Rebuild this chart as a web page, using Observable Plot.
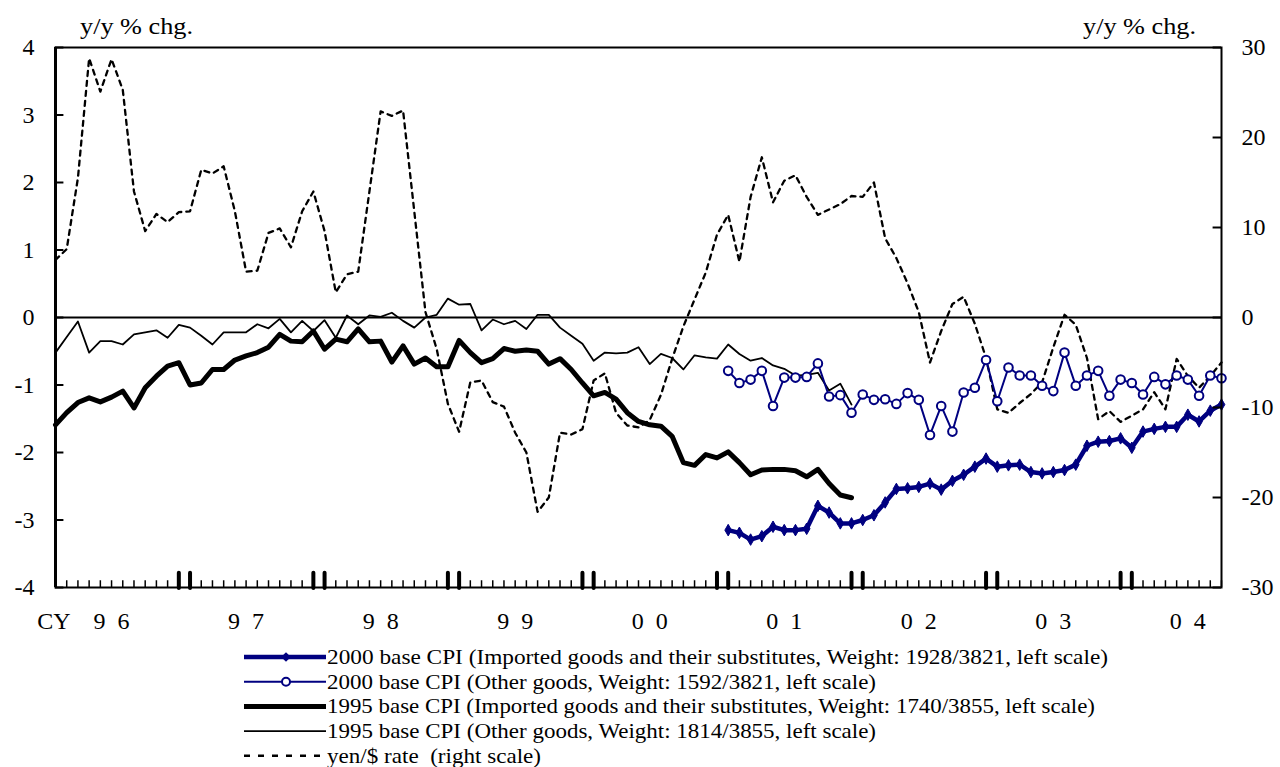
<!DOCTYPE html>
<html><head><meta charset="utf-8">
<script src="https://cdn.jsdelivr.net/npm/d3@7"></script>
<script src="https://cdn.jsdelivr.net/npm/@observablehq/plot@0.6"></script>
<style>
body{margin:0;background:#fff;font-family:"Liberation Serif","Times New Roman",serif;}
#chart svg,#legend svg{display:block}
</style></head><body>
<div id="chart"></div>
<div id="legend"></div>
<script>
// Monthly index: 0 = Jan 1996 ... 104 = Sep 2004
const yearLabels = ["96","97","98","99","00","01","02","03","04"];
const leftTicks = [-4,-3,-2,-1,0,1,2,3,4];
const rightTicks = [-30,-20,-10,0,10,20,30];

// 1995 base CPI, imported goods and their substitutes (Jan 1996 - Dec 2001)
const cpi1995Imported = [-1.59,-1.41,-1.26,-1.19,-1.25,-1.18,-1.09,-1.34,-1.04,-0.87,
 -0.72,-0.67,-1.00,-0.97,-0.77,-0.77,-0.63,-0.57,-0.52,-0.44,
 -0.25,-0.35,-0.36,-0.20,-0.47,-0.32,-0.36,-0.17,-0.36,-0.35,
 -0.66,-0.42,-0.69,-0.60,-0.73,-0.73,-0.34,-0.52,-0.67,-0.61,
 -0.46,-0.50,-0.48,-0.50,-0.69,-0.61,-0.77,-0.97,-1.16,-1.11,
 -1.21,-1.41,-1.54,-1.59,-1.61,-1.76,-2.15,-2.19,-2.03,-2.08,
 -1.99,-2.15,-2.33,-2.26,-2.25,-2.25,-2.27,-2.36,-2.25,-2.46,
 -2.63,-2.67];
// 1995 base CPI, other goods (Jan 1996 - Dec 2001)
const cpi1995Other = [-0.52,-0.29,-0.06,-0.52,-0.35,-0.35,-0.40,-0.25,-0.22,-0.19,
 -0.30,-0.11,-0.15,-0.27,-0.40,-0.22,-0.22,-0.22,-0.10,-0.16,
 -0.02,-0.22,-0.05,-0.20,-0.04,-0.30,0.03,-0.10,0.03,0.01,
 0.07,-0.05,-0.15,0.00,0.04,0.28,0.19,0.20,-0.19,-0.03,
 -0.10,-0.05,-0.17,0.04,0.04,-0.15,-0.27,-0.39,-0.64,-0.52,
 -0.53,-0.52,-0.44,-0.69,-0.54,-0.60,-0.77,-0.56,-0.59,-0.61,
 -0.40,-0.54,-0.64,-0.60,-0.71,-0.76,-0.86,-0.85,-0.82,-1.08,
 -0.98,-1.29];
// 2000 base CPI, imported goods and their substitutes (Jan 2001 - Sep 2004)
const cpi2000Imported = [-3.15,-3.19,-3.29,-3.24,-3.10,-3.15,-3.15,-3.13,-2.79,-2.89,
 -3.05,-3.05,-3.00,-2.93,-2.74,-2.54,-2.53,-2.51,-2.46,-2.55,
 -2.42,-2.33,-2.21,-2.09,-2.21,-2.19,-2.18,-2.29,-2.31,-2.29,
 -2.26,-2.18,-1.90,-1.84,-1.83,-1.79,-1.93,-1.69,-1.65,-1.62,
 -1.62,-1.44,-1.54,-1.38,-1.29];
// 2000 base CPI, other goods (Jan 2001 - Sep 2004)
const cpi2000Other = [-0.79,-0.97,-0.92,-0.79,-1.31,-0.89,-0.89,-0.88,-0.68,-1.17,
 -1.15,-1.41,-1.14,-1.22,-1.21,-1.28,-1.12,-1.22,-1.74,-1.31,
 -1.69,-1.11,-1.04,-0.63,-1.24,-0.74,-0.86,-0.86,-1.01,-1.09,
 -0.52,-1.01,-0.86,-0.79,-1.16,-0.92,-0.97,-1.14,-0.88,-0.99,
 -0.86,-0.92,-1.16,-0.86,-0.90];
// yen/$ rate, y/y % chg. (right scale), Jan 1996 - Sep 2004
const yenDollar = [6.4,7.6,15.5,28.8,25.1,28.7,25.3,14.0,9.6,11.5,
 10.6,11.7,11.8,16.4,16.0,16.8,11.8,5.1,5.2,9.4,
 9.9,7.8,11.8,14.0,9.6,2.8,4.8,5.1,14.0,22.9,
 22.4,23.0,11.8,0.6,-3.5,-9.6,-12.7,-7.2,-7.0,-9.4,
 -9.9,-12.8,-15.0,-21.6,-20.0,-12.8,-13.0,-12.4,-7.0,-6.2,
 -10.6,-12.0,-12.2,-11.4,-8.6,-4.6,-1.0,2.0,5.0,9.2,
 11.4,6.2,13.4,17.8,12.8,15.2,15.8,13.4,11.4,12.0,
 12.6,13.5,13.4,15.0,8.8,6.6,3.8,0.6,-5.0,-1.5,
 1.5,2.3,-0.7,-4.5,-10.2,-10.6,-9.5,-8.5,-7.2,-3.3,
 0.3,-0.8,-4.5,-11.3,-10.4,-11.6,-10.9,-10.2,-8.3,-10.2,
 -4.6,-6.5,-7.8,-6.5,-5.0];

const START_1995 = 0, START_2000 = 60;
const RIGHT_PER_LEFT = 30 / 4;
const NAVY = "#000080";
const nMonths = yenDollar.length;
const months = d3.range(nMonths);

const toRows = (arr, start) => arr.map((v, i) => ({m: start + i, v}));
const s95i = toRows(cpi1995Imported, START_1995);
const s95o = toRows(cpi1995Other, START_1995);
const s00i = toRows(cpi2000Imported, START_2000);
const s00o = toRows(cpi2000Other, START_2000);
const syen = toRows(yenDollar, 0);

const yearTicks = yearLabels.map((d, i) => 12 * i + 5);
const labelOf = new Map(yearTicks.map((t, i) => [t, yearLabels[i][0] + "\u2002" + yearLabels[i][1]]));
const boundary = months.filter(m => m > 0 && (m % 12 === 11 || m % 12 === 0));
const xMax = nMonths - 1;
const FS = 24;

const plot = Plot.plot({
  width: 1280, height: 640,
  marginLeft: 55, marginRight: 59, marginTop: 47, marginBottom: 53,
  x: {domain: [0, xMax], axis: null},
  y: {domain: [-4, 4], axis: null},
  style: {fontFamily: '"Liberation Serif","Times New Roman",serif', fontSize: FS + "px", color: "#000", background: "#fff", overflow: "visible"},
  marks: [
    Plot.ruleY([0], {stroke: "#000", strokeWidth: 2}),
    Plot.line(syen, {x: "m", y: d => d.v / RIGHT_PER_LEFT, stroke: "#000", strokeWidth: 2.3, strokeDasharray: "5,5"}),
    Plot.line(s95o, {x: "m", y: "v", stroke: "#000", strokeWidth: 1.8}),
    Plot.line(s95i, {x: "m", y: "v", stroke: "#000", strokeWidth: 5, strokeLinejoin: "round"}),
    Plot.line(s00o, {x: "m", y: "v", stroke: NAVY, strokeWidth: 2}),
    Plot.dot(s00o, {x: "m", y: "v", r: 4.3, fill: "#fff", stroke: NAVY, strokeWidth: 2}),
    Plot.line(s00i, {x: "m", y: "v", stroke: NAVY, strokeWidth: 4.5, strokeLinejoin: "round"}),
    Plot.dot(s00i, {x: "m", y: "v", symbol: "diamond", r: 3.5, fill: NAVY, stroke: NAVY, strokeWidth: 1}),
    // month ticks
    Plot.ruleX(months, {x: d => d, y1: -4, y2: -3.9, stroke: "#000", strokeWidth: 1.5}),
    Plot.ruleX(boundary, {x: d => d, y1: -4.015, y2: -3.79, stroke: "#000", strokeWidth: 4, strokeLinecap: "round"}),
    // y ticks (inward)
    Plot.ruleY(leftTicks, {y: d => d, x1: 0, x2: 0.75, stroke: "#000", strokeWidth: 2}),
    Plot.ruleY(rightTicks, {y: d => d / RIGHT_PER_LEFT, x1: xMax - 0.75, x2: xMax, stroke: "#000", strokeWidth: 2}),
    Plot.frame({stroke: "#000", strokeWidth: 2}),
    Plot.ruleX([0], {stroke: "#000", strokeWidth: 3}),
    Plot.axisY({anchor: "left", label: null, ticks: leftTicks, tickSize: 0, tickPadding: 21, tickFormat: d => String(d), fontSize: FS}),
    Plot.axisY({anchor: "right", label: null, ticks: rightTicks.map(v => v / RIGHT_PER_LEFT), tickSize: 0, tickPadding: 20,
      tickFormat: d => String(Math.round(d * RIGHT_PER_LEFT)), fontSize: FS}),
    Plot.axisX({label: null, ticks: yearTicks, tickSize: 0, tickPadding: 24, tickFormat: d => labelOf.get(d), fontSize: FS})
  ]
});
document.getElementById("chart").appendChild(plot);

const svg = d3.select(plot);
const font = '"Liberation Serif","Times New Roman",serif';
svg.append("text").attr("x", 80).attr("y", 34).attr("text-anchor", "start").attr("font-size", FS).attr("font-family", font)
  .attr("textLength", 113).attr("lengthAdjust", "spacingAndGlyphs").text("y/y % chg.");
svg.append("text").attr("x", 1083).attr("y", 34).attr("text-anchor", "start").attr("font-size", FS).attr("font-family", font)
  .attr("textLength", 113).attr("lengthAdjust", "spacingAndGlyphs").text("y/y % chg.");
svg.append("text").attr("x", 54).attr("y", 629).attr("text-anchor", "middle").attr("font-size", FS).attr("font-family", font).text("CY");

// Legend below the plot
const legendItems = [
  {label: "2000 base CPI (Imported goods and their substitutes, Weight: 1928/3821, left scale)", color: NAVY, width: 4.5, marker: "diamond", len: 781},
  {label: "2000 base CPI (Other goods, Weight: 1592/3821, left scale)", color: NAVY, width: 2, marker: "circle", len: 549},
  {label: "1995 base CPI (Imported goods and their substitutes, Weight: 1740/3855, left scale)", color: "#000", width: 5, len: 768},
  {label: "1995 base CPI (Other goods, Weight: 1814/3855, left scale)", color: "#000", width: 1.8, len: 549},
  {label: "yen/$ rate  (right scale)", color: "#000", width: 2.5, dash: "6,8", len: 214}
];
const lg = d3.select("#legend").append("svg").attr("width", 1280).attr("height", 127);
legendItems.forEach((it, i) => {
  const cy = 17 + i * 24.7;
  const g = lg.append("g");
  g.append("line").attr("x1", 244).attr("x2", 326).attr("y1", cy).attr("y2", cy)
    .attr("stroke", it.color).attr("stroke-width", it.width).attr("stroke-dasharray", it.dash || null);
  if (it.marker === "diamond") {
    g.append("path").attr("d", d3.symbol(d3.symbolDiamond2, 60)()).attr("transform", `translate(286,${cy})`).attr("fill", it.color);
  } else if (it.marker === "circle") {
    g.append("circle").attr("cx", 286).attr("cy", cy).attr("r", 4).attr("fill", "#fff").attr("stroke", it.color).attr("stroke-width", 2);
  }
  g.append("text").attr("x", 327).attr("y", cy + 7).attr("font-size", 22).attr("font-family", font)
    .attr("textLength", it.len).attr("lengthAdjust", "spacingAndGlyphs").style("white-space", "pre").text(it.label);
});
</script>
</body></html>
